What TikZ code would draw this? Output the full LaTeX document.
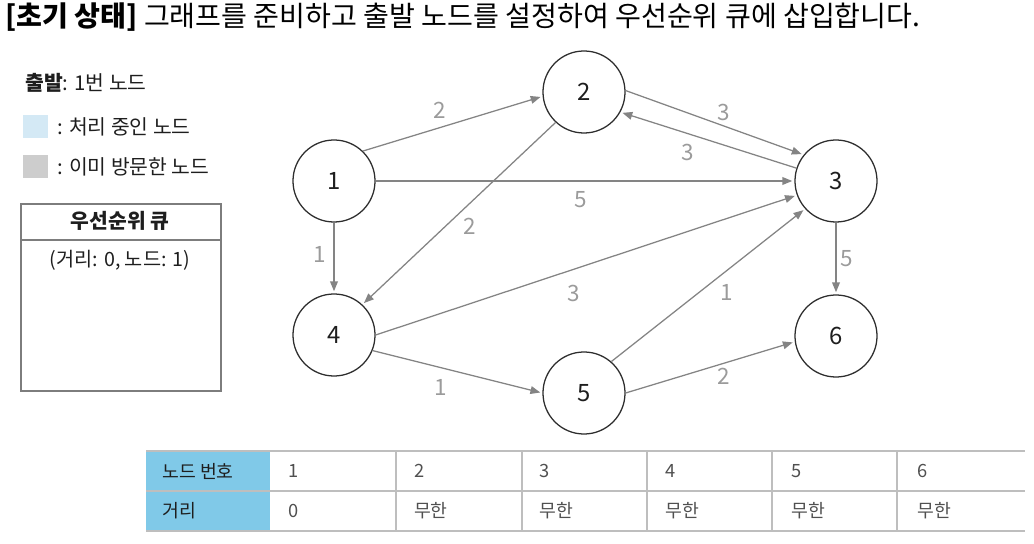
\documentclass[tikz,border=0pt]{standalone}
\usepackage{fontspec}
\setmainfont{Noto Sans CJK KR}
\usepackage{tikz}
\usetikzlibrary{positioning, arrows.meta}
\definecolor{edgegray}{RGB}{132,132,132}
\definecolor{weightgray}{RGB}{155,155,155}
\definecolor{ringdark}{RGB}{45,45,45}
\definecolor{boxgray}{RGB}{125,125,125}
\definecolor{gridgray}{RGB}{190,190,190}
\definecolor{activeblue}{RGB}{212,233,245}
\definecolor{visitedgray}{RGB}{205,205,205}
\definecolor{headblue}{RGB}{128,201,232}
\definecolor{textdark}{RGB}{30,30,30}
\definecolor{textsoft}{RGB}{80,80,80}
\tikzset{
  vertex/.style={
    circle, draw=ringdark, line width=0.9pt, minimum size=2.05cm,
    inner sep=0pt, text=textdark, font=\fontsize{17}{20}\selectfont
  },
  arrow/.style={->, >={Triangle[length=7pt, width=5.5pt]}, line width=0.9pt, edgegray, shorten >=1.5pt},
  weight/.style={font=\fontsize{16}{19}\selectfont, text=weightgray, inner sep=3pt},
  swatch/.style={minimum width=0.62cm, minimum height=0.57cm, inner sep=0pt},
  legendtext/.style={font=\fontsize{14.5}{17}\selectfont, text=textdark, inner sep=0pt},
  queuebox/.style={
    draw=boxgray, line width=1.1pt, minimum width=5cm, minimum height=4.675cm, inner sep=0pt
  },
  cell/.style={font=\fontsize{13}{16}\selectfont, text=textsoft, anchor=west, inner sep=0pt},
  cellhead/.style={cell, text=textdark}
}

\begin{document}
\begin{tikzpicture}[x=0.025cm, y=-0.025cm, node distance=0.2cm]
  \useasboundingbox (0,0) rectangle (1034,544);
  \node[anchor=west, inner sep=0pt, text=black, font=\fontsize{20}{24}\selectfont] (title) at (5,17)
    {\textbf{[초기 상태]} 그래프를 준비하고 출발 노드를 설정하여 우선순위 큐에 삽입합니다.};

  \node[legendtext, anchor=west] (start) at (25,83) {\textbf{출발}: 1번 노드};
  \node[swatch, fill=activeblue] (swatchA) at (35.5,126.5) {};
  \node[legendtext, right=0.22cm of swatchA] (legendA) {: 처리 중인 노드};
  \node[swatch, fill=visitedgray] (swatchB) at (35.5,166.5) {};
  \node[legendtext, right=0.22cm of swatchB] (legendB) {: 이미 방문한 노드};

  \node[queuebox, anchor=north west] (queue) at (20,203) {};
  \draw[boxgray, line width=1.1pt] (queue.north west) ++(0,37) -- ++(200,0);
  \node[legendtext, font=\fontsize{14.5}{17}\selectfont\bfseries] (qtitle) at (120,221) {우선순위 큐};
  \node[legendtext, font=\fontsize{14}{17}\selectfont] (qitem) at (120,260) {(거리: 0, 노드: 1)};

  \node[vertex] (n1) at (334,181) {1};
  \node[vertex] (n2) at (584,92) {2};
  \node[vertex] (n3) at (836,181) {3};
  \node[vertex] (n4) at (334,335) {4};
  \node[vertex] (n5) at (584,393) {5};
  \node[vertex] (n6) at (836,336) {6};

  \draw[arrow] (n1.46) -- node[weight, above=3pt, pos=0.43] {2} (n2.186);
  \draw[arrow] (n2.2) -- node[weight, above, pos=0.55] {3} (n3.141);
  \draw[arrow] (n3.162) -- node[weight, below=4pt, pos=0.62] {3} (n2.-29);
  \draw[arrow] (n1.east) -- node[weight, below=4pt, pos=0.49] {5} (n3.west);
  \draw[arrow] (n2.227) -- node[weight, below right, pos=0.5] {2} (n4.47);
  \draw[arrow] (n1.south) -- node[weight, left=2pt, pos=0.45] {1} (n4.north);
  \draw[arrow] (n4.east) -- node[weight, below=8pt, pos=0.47] {3} (n3.200);
  \draw[arrow] (n5.49) -- node[weight, below right, pos=0.54] {1} (n3.222);
  \draw[arrow] (n3.south) -- node[weight, right] {5} (n6.north);
  \draw[arrow] (n4.-22) -- node[weight, below=5pt, pos=0.4] {1} (n5.west);
  \draw[arrow] (n5.east) -- node[weight, below, pos=0.58] {2} (n6.188);

  \fill[headblue] (146,451) rectangle (270,531);
  \foreach \y in {451,491,531}
    \draw[gridgray, line width=1pt] (146,\y) -- (1025,\y);
  \foreach \x in {396,522,647,772,897}
    \draw[gridgray, line width=0.8pt] (\x,451) -- (\x,531);
  \node[cellhead] (hnum) at (162,471) {노드 번호};
  \node[cellhead] (hdist) at (162,511) {거리};
  \foreach \i/\d in {1/0, 2/무한, 3/무한, 4/무한, 5/무한, 6/무한} {
    \node[cell] (num\i) at ({270+(\i-1)*125.83+18}, 471) {\i};
    \node[cell] (dist\i) at ({270+(\i-1)*125.83+18}, 511) {\d};
  }
\end{tikzpicture}
\end{document}
